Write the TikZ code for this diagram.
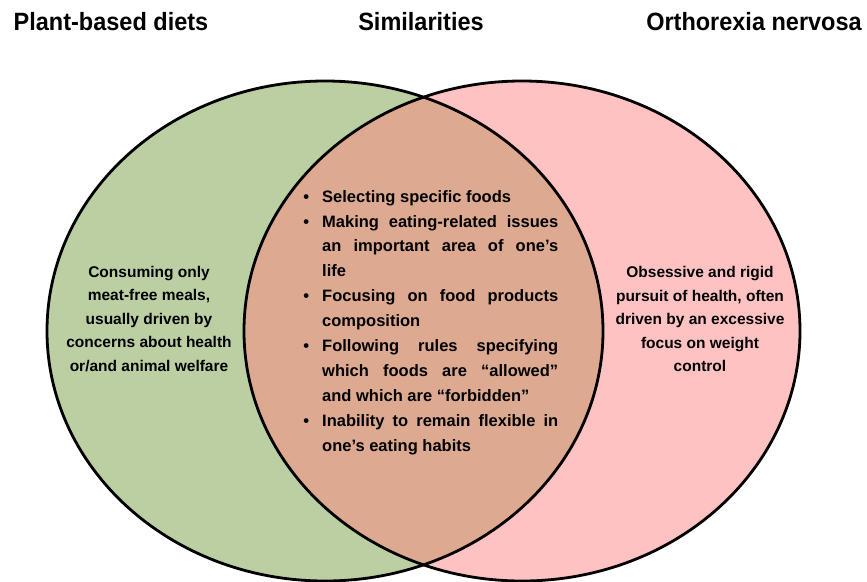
\documentclass[tikz,border=0pt]{standalone}
\usepackage{fontspec}
\setmainfont{Liberation Sans}
\newfontfamily\titlefont[FakeStretch=0.94]{Liberation Sans}
\definecolor{plantgreen}{RGB}{188,207,163}
\definecolor{orthopink}{RGB}{255,194,194}
\definecolor{overlap}{RGB}{221,169,145}
\tikzset{
  title/.style={font=\titlefont\bfseries\fontsize{25}{30}\selectfont, anchor=center},
  blurb/.style={font=\bfseries\fontsize{15.5}{23.5}\selectfont, align=center, anchor=center},
  outline/.style={draw=black, line width=2.8pt},
}
\begin{document}
\begin{tikzpicture}[x=1pt,y=-1pt]
\useasboundingbox (0,0) rectangle (867,581);
%\draw (0,331) -- (867,331);
\fill[plantgreen] (325,331) ellipse [x radius=278, y radius=250];
\fill[orthopink] (522,331) ellipse [x radius=278, y radius=250];
\begin{scope}
\clip (325,331) ellipse [x radius=278, y radius=250];
\fill[overlap] (522,331) ellipse [x radius=278, y radius=250];
\end{scope}
\draw[outline] (325,331) ellipse [x radius=278, y radius=250];
\draw[outline] (522,331) ellipse [x radius=278, y radius=250];

\node[title] (plant) at (111,22) {Plant-based diets};
\node[title] (similar) at (421,22) {Similarities};
\node[title] (ortho) at (754,22) {Orthorexia nervosa};

\node[blurb] (plantText) at (149,319) {Consuming only\\meat-free meals,\\usually driven by\\concerns about health\\or/and animal welfare};
\node[blurb] (orthoText) at (700,319) {Obsessive and rigid\\pursuit of health, often\\driven by an excessive\\focus on weight\\control};

\node[font=\bfseries\fontsize{16.5}{24.9}\selectfont, text width=256pt, align=justify, anchor=north west, inner sep=0pt] (simText) at (302,177) {%
\begin{list}{\textbullet}{\setlength{\leftmargin}{20pt}\setlength{\labelwidth}{6pt}\setlength{\labelsep}{13pt}%
\setlength{\itemsep}{0pt}\setlength{\parsep}{0pt}\setlength{\topsep}{0pt}\setlength{\partopsep}{0pt}}
\item Selecting specific foods
\item Making eating-related issues an important area of one’s\linebreak life
\item Focusing on food products composition
\item Following rules specifying which foods are “allowed” and which are “forbidden”
\item Inability to remain flexible in one’s eating habits
\end{list}};
\end{tikzpicture}
\end{document}
